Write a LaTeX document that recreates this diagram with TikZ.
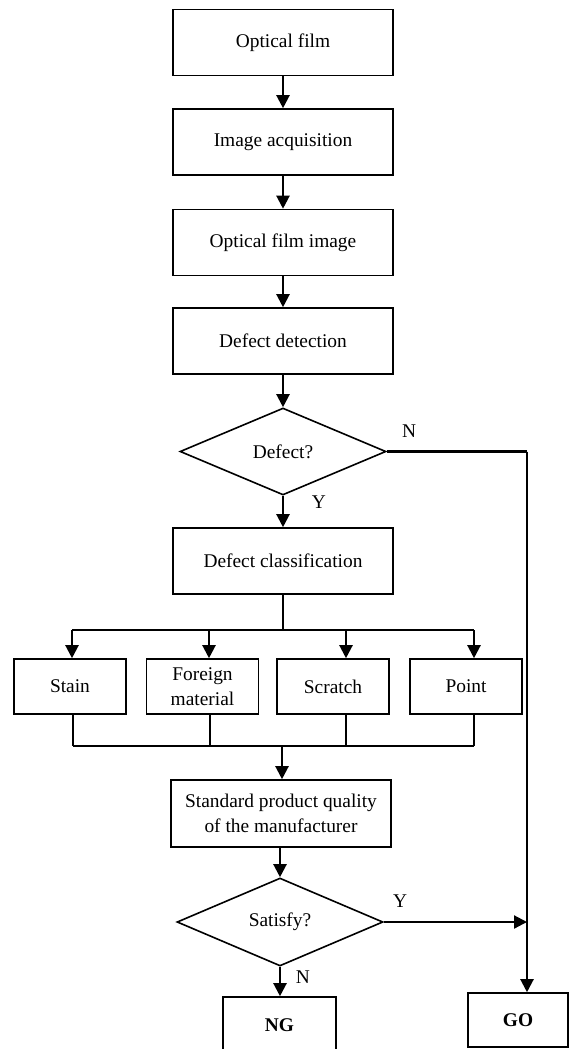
\documentclass[tikz,border=0pt]{standalone}
\usepackage{fontspec}
\setmainfont{Liberation Serif}
\usetikzlibrary{arrows.meta,shapes.geometric}
\begin{document}
\begin{tikzpicture}[x=1pt,y=-1pt,
  every node/.style={font=\fontsize{19.4}{25}\selectfont},
  box/.style={draw,line width=1.6pt,minimum width=220pt,minimum height=66pt,inner sep=0pt,align=center},
  sbox/.style={draw,line width=1.6pt,minimum width=112pt,minimum height=55pt,inner sep=0pt,align=center},
  dia/.style={draw,diamond,line width=1.6pt,minimum width=206pt,minimum height=87pt,inner sep=0pt},
  arr/.style={line width=2.2pt,-{Triangle[length=13pt,width=13pt]}},
  ln/.style={line width=1.6pt},
  lbl/.style={inner sep=0pt}]
\useasboundingbox (0,0) rectangle (570,1049);
\node[box] (film) at (283,42.5) {Optical film};
\node[box] (acq) at (283,142) {Image acquisition};
\node[box] (img) at (283,242.5) {Optical film image};
\node[box] (det) at (283,341) {Defect detection};
\node[dia] (defect) at (283,451.5) {Defect?};
\node[box] (cls) at (283,561) {Defect classification};
\node[sbox] (stain) at (70,686.5) {Stain};
\node[sbox] (foreign) at (202.5,686.5) {Foreign\\material};
\node[sbox] (scratch) at (333,686.5) {Scratch};
\node[sbox] (point) at (466,686.5) {Point};
\node[box,minimum height=67pt] (std) at (281,813.5) {Standard product quality\\of the manufacturer};
\node[dia,minimum height=88pt] (sat) at (280,922) {Satisfy?};
\node[draw,line width=1.6pt,minimum width=113pt,minimum height=56pt,inner sep=0pt,font=\fontsize{19.4}{25}\selectfont\bfseries] (ng) at (279.5,1025) {NG};
\node[draw,line width=1.6pt,minimum width=100pt,minimum height=54pt,inner sep=0pt,font=\fontsize{19.4}{25}\selectfont\bfseries] (go) at (518,1020) {GO};
\node[lbl] (n1) at (409,431) {N};
\node[lbl] (y1) at (319,502) {Y};
\node[lbl] (y2) at (400,901) {Y};
\node[lbl] (n2) at (303,977) {N};
\coordinate (tb) at (283,630);
\coordinate (t1) at (72,630);
\coordinate (t2) at (209,630);
\coordinate (t3) at (346,630);
\coordinate (t4) at (474,630);
\coordinate (bb) at (282,746);
\coordinate (b1) at (73,746);
\coordinate (b2) at (210,746);
\coordinate (b3) at (346,746);
\coordinate (b4) at (474,746);
\coordinate (rc) at (527,451.5);
\coordinate (rj) at (527,922);
\draw[arr] (film) -- (acq);
\draw[arr] (acq) -- (img);
\draw[arr] (img) -- (det);
\draw[arr] (det) -- (defect);
\draw[arr] (defect) -- (cls);
\draw[ln] (cls.south) -- (tb);
\draw[ln] (t1) -- (t4);
\draw[arr] (t1) -- (t1 |- stain.north);
\draw[arr] (t2) -- (t2 |- foreign.north);
\draw[arr] (t3) -- (t3 |- scratch.north);
\draw[arr] (t4) -- (t4 |- point.north);
\draw[ln] (b1 |- stain.south) -- (b1);
\draw[ln] (b2 |- foreign.south) -- (b2);
\draw[ln] (b3 |- scratch.south) -- (b3);
\draw[ln] (b4 |- point.south) -- (b4);
\draw[ln] (b1) -- (b4);
\draw[arr] (bb) -- (bb |- std.north);
\draw[arr] (std.south -| sat.north) -- (sat.north);
\draw[arr] (sat.south) -- (sat.south |- ng.north);
\draw[line width=2.2pt] (defect.east) -- (rc);
\draw[arr] (rc) -- (rc |- go.north);
\draw[arr] (sat.east) -- (rj);
\end{tikzpicture}
\end{document}
